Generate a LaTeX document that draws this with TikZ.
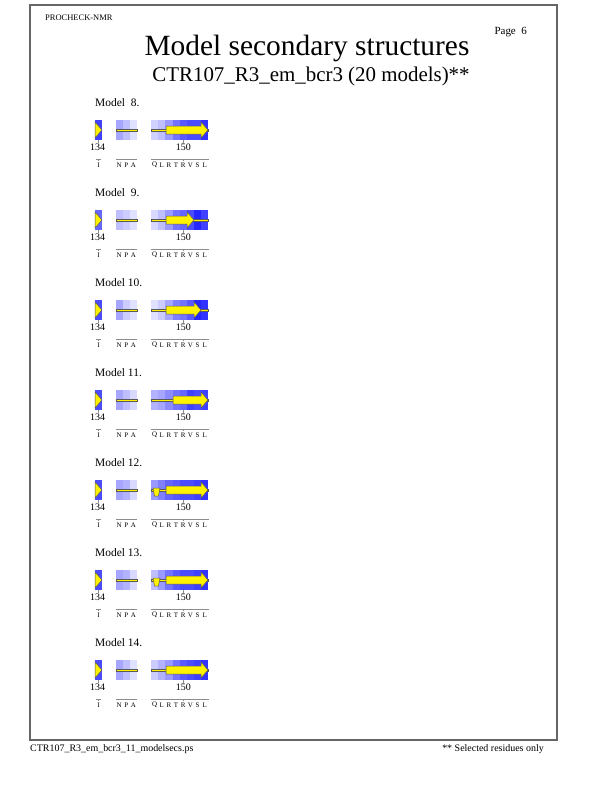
\documentclass[tikz,border=0pt]{standalone}
\usepackage{fontspec}
\setmainfont{Liberation Serif}
\usetikzlibrary{positioning}

\tikzset{
  strand/.style={fill=yellow, draw=black!65, line width=0.5bp},
  coilbar/.style={fill=yellow, draw=black!65, line width=0.4bp},
  resline/.style={draw=black!45, line width=0.4bp},
  reslabel/.style={font=\fontsize{7}{8}\selectfont, inner sep=0pt},
  numlabel/.style={font=\fontsize{10}{11}\selectfont, inner sep=0pt},
  modellabel/.style={font=\fontsize{11.5}{12}\selectfont, inner sep=0pt, anchor=west}
}

\begin{document}
\begin{tikzpicture}[x=1bp, y=-1bp]
  \useasboundingbox (0,0) rectangle (612,792);

  % Draw the frame
  \draw[line width=1.5bp, black!60] (30,5) rectangle (557,740);

  % header and footer
  \node[anchor=west, inner sep=0pt, font=\fontsize{8.5}{9}\selectfont] (prog) at (45,18) {PROCHECK-NMR};
  \node[anchor=east, inner sep=0pt, font=\fontsize{11}{12}\selectfont] (page) at (527,32) {Page\ \ 6};
  \node[inner sep=0pt, font=\fontsize{29.5}{31}\selectfont] (title) at (307,48) {Model secondary structures};
  \node[inner sep=0pt, font=\fontsize{21}{23}\selectfont] (subtitle) at (311,76) {CTR107\_R3\_em\_bcr3 (20 models)**};
  \node[anchor=west, inner sep=0pt, font=\fontsize{10}{11}\selectfont] (fname) at (30,749) {CTR107\_R3\_em\_bcr3\_11\_modelsecs.ps};
  \node[anchor=east, inner sep=0pt, font=\fontsize{10}{11}\selectfont] (note) at (544,749) {** Selected residues only};

  % one row per model: shades, strand start/end, turn flag
  \foreach \m/\sa/\sb/\sc/\xs/\xe/\turn [count=\k from 0] in {
    8/75/{35,25,12}/{18,25,40,55,65,70,70,80}/166/208/0,
    9/60/{25,20,12}/{15,25,40,55,60,70,85,75}/166/194/0,
    10/70/{35,20,12}/{12,20,35,50,55,65,85,80}/166/201/0,
    11/70/{35,25,15}/{30,35,45,55,60,75,70,75}/173/208/0,
    12/70/{35,30,15}/{40,50,60,65,70,70,75,80}/166/208/1,
    13/70/{35,30,15}/{25,40,55,65,70,70,75,80}/166/208/1,
    14/70/{35,25,12}/{20,30,40,55,65,70,75,80}/166/208/0}
  {
    \pgfmathsetmacro{\y}{103+90*\k}

    % model title
    \ifnum\m<10
      \node[modellabel] (model\m) at (95,\y) {Model\ \ \m.};
    \else
      \node[modellabel] (model\m) at (95,\y) {Model \m.};
    \fi

    % Draw the shaded cells
    \fill[blue!\sa!white] (95,\y+17) rectangle ++(7.2,20);
    \foreach \s [count=\i from 0] in \sb
      \fill[blue!\s!white] ({115.5+7.2*\i},\y+17) rectangle ++(7.2,20);
    \foreach \s [count=\i from 0] in \sc
      \fill[blue!\s!white] ({151+7.17*\i},\y+17) rectangle ++(7.2,20);

    % ticks under the strip
    \draw[resline] (97.7,\y+37) -- (97.7,\y+40);
    \draw[resline] (183.3,\y+37) -- (183.3,\y+40);

    % Draw the structure
    \draw[strand] (95,\y+19) -- (102,\y+27) -- (95,\y+35) -- cycle;
    \draw[coilbar] (116.5,\y+25.8) rectangle (137,\y+28.2);
    \draw[coilbar] (151,\y+25.8) rectangle (208,\y+28.2);
    \ifnum\turn=1
      \draw[strand] (153,\y+25) -- (160,\y+25) -- (158.5,\y+33) -- (154.5,\y+33) -- cycle;
    \fi
    \draw[strand] (\xs,\y+23) -- (\xe-7,\y+23) -- (\xe-7,\y+19) -- (\xe,\y+27)
      -- (\xe-7,\y+35) -- (\xe-7,\y+31) -- (\xs,\y+31) -- cycle;

    % residue numbers
    \node[numlabel] (first\m) at (97.7,\y+44) {134};
    \node[numlabel] (mid\m) at (183.3,\y+44) {150};

    % residue names
    \draw[resline] (96,\y+56) -- (100.5,\y+56);
    \draw[resline] (115.5,\y+56) -- (137,\y+56);
    \draw[resline] (151,\y+56) -- (208.5,\y+56);
    \draw[resline] (97.7,\y+56) -- (97.7,\y+57.5);
    \draw[resline] (183.3,\y+56) -- (183.3,\y+57.5);
    \node[reslabel] (ra\m) at (98.6,\y+62) {I};
    \foreach \r [count=\i from 0] in {N,P,A}
      \node[reslabel] (rb\m-\i) at ({119.1+7.2*\i},\y+62) {\r};
    \foreach \r [count=\i from 0] in {Q,L,R,T,R,V,S,L}
      \node[reslabel] (rc\m-\i) at ({154.6+7.17*\i},\y+62) {\r};
  }
\end{tikzpicture}
\end{document}
